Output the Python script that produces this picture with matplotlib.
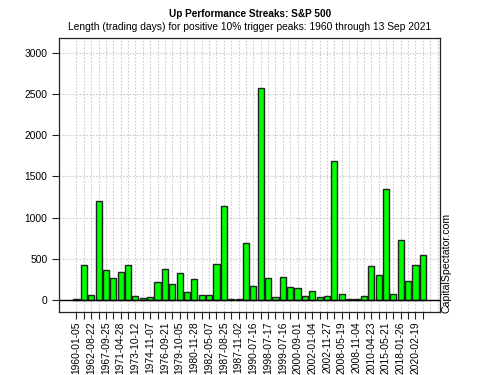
import numpy as np
import matplotlib.pyplot as plt

plt.rcParams['font.family'] = ['Liberation Sans', 'DejaVu Sans']

# streak lengths (trading days), one per trigger peak
streaks = [10, 420, 60, 1205, 360, 270, 340, 420, 45, 28, 36, 218,
           372, 190, 332, 97, 251, 65, 57, 433, 1140, 10, 10, 687,
           170, 2575, 271, 32, 283, 162, 142, 49, 109, 32, 49, 1685,
           72, 12, 12, 49, 412, 299, 1340, 69, 728, 230, 425, 542]

# every other bar gets a date label
tick_labels = ['1960-01-05', '1962-08-22', '1967-09-25', '1971-04-28',
               '1973-10-12', '1974-11-07', '1976-09-21', '1979-10-05',
               '1980-11-28', '1982-05-07', '1987-08-25', '1987-11-02',
               '1990-07-16', '1998-07-17', '1999-07-16', '2000-09-01',
               '2002-01-04', '2002-11-27', '2008-05-19', '2008-11-04',
               '2010-04-23', '2015-05-21', '2018-01-26', '2020-02-19']

n = len(streaks)
x = 0.7 + 1.2 * np.arange(n)   # R barplot style positions

fig = plt.figure(figsize=(5, 3.75), dpi=100)
ax = fig.add_axes([0.1186, 0.168, 0.7614, 0.730])

# dotted grid
for gx in 0.7 + 1.2 * np.arange(n + 2):
    ax.axvline(gx, color='#cccccc', ls=(0, (1.5, 1.5)), lw=0.8, zorder=0)
for gy in range(500, 3001, 500):
    ax.axhline(gy, color='#cccccc', ls=(0, (1.5, 1.5)), lw=0.8, zorder=0)

ax.bar(x, streaks, width=1.0, color='#00ff00', edgecolor='#222222',
       linewidth=1.0, zorder=2)
ax.axhline(0, color='black', lw=1.0, zorder=3)

ax.set_xlim(-2.096, 59.896)
ax.set_ylim(-146, 3174)

ax.set_yticks(range(0, 3001, 500))
ax.set_xticks(x)
ax.set_xticklabels([lbl for pair in zip(tick_labels, [''] * len(tick_labels))
                    for lbl in pair], rotation=90)
ax.tick_params(axis='both', labelsize=7.4, length=5, width=0.8, color='#222222')
ax.tick_params(axis='x', pad=2)
for s in ax.spines.values():
    s.set_linewidth(0.9)
    s.set_color('#222222')

fig.text(0.5, 0.963, 'Up Performance Streaks: S&P 500', ha='center',
         va='center', fontsize=7.2, fontweight='bold')
fig.text(0.5, 0.928, 'Length (trading days) for positive 10% trigger peaks: '
         '1960 through 13 Sep 2021', ha='center', va='center', fontsize=7.4)
fig.text(0.893, 0.30, 'CapitalSpectator.com', rotation=90, ha='center',
         va='center', fontsize=7.6)

fig.savefig('out.png', dpi=100)
